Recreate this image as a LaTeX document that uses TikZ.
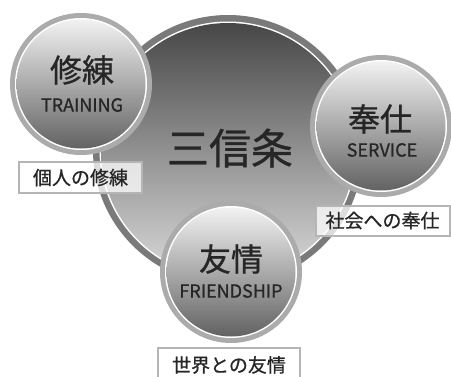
\documentclass[tikz,border=0pt]{standalone}
\usepackage{fontspec}
\setmainfont{Noto Sans CJK JP}[FakeBold=0.8]
\definecolor{bigringc}{HTML}{7A7A7A}
\definecolor{bigtop}{HTML}{474747}
\definecolor{bigbot}{HTML}{DADADA}
\definecolor{smallring}{HTML}{ABABAB}
\definecolor{smalltop}{HTML}{F2F2F2}
\definecolor{smallbot}{HTML}{626262}
\definecolor{textgray}{HTML}{262626}
\definecolor{boxgray}{HTML}{B5B5B5}
\begin{document}
\begin{tikzpicture}[x=1pt,y=-1pt,
  txt/.style={text=textgray, inner sep=0pt, anchor=center},
  kanji/.style={txt, font=\fontsize{32}{32}\selectfont},
  eng/.style={txt, font=\fontsize{18}{18}\selectfont},
  labelbox/.style={draw=boxgray, line width=2pt, fill=white, fill opacity=0.75, text opacity=1,
    text=textgray, inner sep=0pt, font=\fontsize{19}{19}\selectfont}]
\useasboundingbox (0,0) rectangle (451,376);
% big circle
\fill[bigringc] (228,150) circle (135);
\fill[white] (228,150) circle (128.5);
\shade[top color=bigtop, bottom color=bigbot] (228,150) circle (127);
\node[txt, font=\fontsize{42}{42}\selectfont] (title) at (230,148) {三信条};
% small circles
\foreach \cx/\cy/\nm in {81/84/c1, 381/126/c2, 231/272/c3}{
  \fill[smallring] (\cx,\cy) circle (71);
  \fill[white] (\cx,\cy) circle (66);
  \shade[top color=smalltop, bottom color=smallbot] (\cx,\cy) circle (64.5);
}
\node[kanji] (k1) at (82,70) {修練};
\node[eng] (e1) at (82,105) {TRAINING};
\node[kanji] (k2) at (380,119) {奉仕};
\node[eng] (e2) at (382,150) {SERVICE};
\node[kanji] (k3) at (231,259) {友情};
\node[eng] (e3) at (231,291) {FRIENDSHIP};
% label boxes
\node[labelbox, minimum width=123pt, minimum height=31pt] (l1) at (80.5,177.5) {個人の修練};
\node[labelbox, minimum width=134pt, minimum height=30pt] (l2) at (382.5,220.5) {社会への奉仕};
\node[labelbox, minimum width=142pt, minimum height=34pt] (l3) at (229,365) {世界との友情};
\end{tikzpicture}
\end{document}
